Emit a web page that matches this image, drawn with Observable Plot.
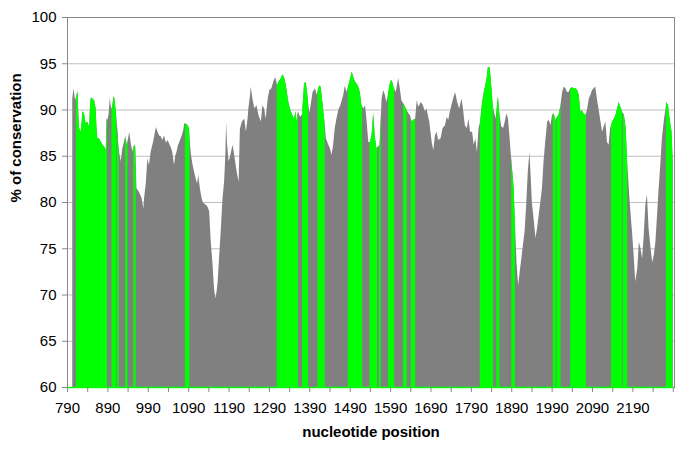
<!DOCTYPE html>
<html><head><meta charset="utf-8">
<script src="https://cdn.jsdelivr.net/npm/d3@7"></script>
<script src="https://cdn.jsdelivr.net/npm/@observablehq/plot@0.6"></script>
<style>body{margin:0;background:#fff;}</style>
</head><body><div id="chart"></div>
<script>
const positions = [803,806,810,813,816,818,820,824,826,828,832,836,840,845,847,849,853,857,861,863,865,869,874,878,882,886,888,890,893,896,898,901,905,907,911,915,917,919,923,927,931,934,938,941,944,948,952,956,959,962,968,975,979,981,985,989,993,997,1003,1010,1014,1018,1022,1026,1030,1035,1039,1043,1048,1051,1055,1058,1061,1065,1068,1074,1078,1080,1083,1087,1092,1095,1097,1101,1105,1109,1112,1115,1119,1123,1126,1130,1134,1138,1142,1146,1150,1154,1157,1160,1163,1167,1171,1175,1179,1182,1184,1186,1190,1193,1196,1200,1204,1210,1215,1218,1223,1229,1233,1237,1239,1243,1245,1249,1254,1259,1264,1270,1274,1278,1282,1287,1291,1296,1302,1306,1310,1313,1317,1324,1328,1332,1338,1342,1346,1352,1356,1358,1362,1367,1372,1377,1381,1385,1390,1394,1398,1404,1408,1414,1418,1423,1427,1431,1437,1441,1445,1449,1453,1457,1462,1467,1474,1478,1482,1489,1495,1499,1503,1507,1511,1515,1519,1524,1528,1532,1536,1540,1544,1548,1552,1556,1560,1564,1569,1573,1577,1581,1586,1590,1594,1598,1604,1610,1614,1618,1625,1629,1635,1639,1643,1647,1652,1656,1660,1666,1671,1676,1680,1687,1693,1697,1701,1705,1709,1715,1720,1726,1730,1734,1738,1742,1746,1751,1756,1761,1767,1771,1775,1780,1784,1788,1793,1797,1801,1805,1809,1813,1817,1822,1826,1830,1832,1836,1838,1841,1844,1846,1851,1857,1860,1865,1870,1874,1878,1882,1886,1889,1892,1896,1898,1903,1907,1911,1915,1919,1923,1927,1931,1935,1938,1941,1946,1950,1954,1958,1962,1966,1970,1974,1979,1983,1987,1991,1995,1999,2003,2007,2012,2016,2020,2024,2028,2032,2036,2041,2045,2049,2053,2057,2061,2065,2069,2074,2078,2082,2086,2090,2094,2098,2102,2107,2111,2115,2119,2123,2127,2131,2135,2140,2144,2148,2152,2156,2160,2164,2169,2173,2177,2181,2185,2189,2193,2197,2202,2206,2210,2214,2218,2222,2226,2230,2235,2239,2243,2247,2251,2255,2259,2263,2268,2272,2274,2278,2283,2287,2290];
const conservation = [91.2,92.3,91.0,91.5,92.0,89.5,88.0,87.6,88.5,89.8,89.6,88.5,88.7,88.1,90.5,91.3,91.2,91.0,90.1,88.0,86.9,86.9,86.5,86.2,86.0,85.6,89.0,88.9,89.5,91.3,90.5,90.0,91.4,91.3,89.8,87.6,86.2,85.4,84.4,85.8,86.5,87.1,86.2,86.8,87.6,86.3,85.5,86.2,86.0,81.5,81.1,80.4,79.3,80.5,82.0,84.7,84.0,85.4,86.5,88.1,87.6,87.2,87.1,86.7,87.2,86.4,86.7,86.3,85.8,85.3,84.0,85.0,85.4,86.2,86.5,87.2,87.8,88.5,88.5,88.4,88.0,86.0,85.1,84.0,83.2,82.5,82.0,82.9,81.5,80.5,80.0,79.8,79.7,79.5,79.0,75.7,73.5,70.7,69.6,70.2,71.4,74.3,77.1,80.4,82.2,85.0,88.7,86.5,84.4,84.8,85.4,86.2,85.1,83.3,82.2,87.9,88.7,89.0,87.6,89.0,90.1,91.5,92.5,91.2,90.1,90.5,89.4,88.7,90.5,90.1,89.0,91.2,92.1,92.3,93.2,93.5,92.6,93.0,93.2,93.8,93.4,92.6,90.8,90.1,89.6,89.0,89.8,88.7,89.8,89.2,89.5,92.8,93.0,91.6,89.6,90.7,91.9,92.3,91.6,92.6,92.5,90.5,88.9,86.9,86.2,85.8,85.1,86.2,88.0,89.0,90.0,90.5,91.6,92.6,91.9,93.0,94.1,93.5,93.0,92.8,92.5,91.9,90.5,90.1,90.5,88.7,86.5,86.5,87.2,89.6,87.2,85.8,86.0,86.2,91.2,92.1,91.6,90.8,92.0,93.0,93.2,92.5,91.9,93.4,92.3,91.0,90.5,90.1,89.6,89.4,88.7,88.9,89.0,91.0,90.3,90.8,90.5,89.8,90.1,88.7,86.5,85.6,87.2,87.6,86.7,86.9,88.0,88.3,89.2,88.9,89.8,90.5,91.2,91.9,90.8,90.1,91.2,89.9,88.3,88.0,89.0,87.6,87.6,86.2,86.9,85.4,88.0,88.7,90.5,91.9,92.7,93.7,94.6,94.6,93.9,92.3,90.5,90.0,89.0,91.4,89.8,88.2,88.0,88.7,89.6,89.0,86.9,85.1,83.6,81.5,79.0,73.5,71.0,72.5,73.9,75.4,76.8,79.7,83.3,85.4,82.9,80.0,77.9,76.1,77.2,78.6,80.0,81.5,84.4,86.5,88.7,88.9,88.3,89.4,89.6,88.9,89.2,89.4,90.5,91.9,92.5,92.3,91.9,91.9,92.3,92.4,92.3,92.3,92.1,91.6,89.8,89.9,89.6,89.4,90.1,91.2,91.6,92.1,92.3,92.5,91.2,89.8,88.7,87.6,88.2,88.7,86.5,86.2,88.0,88.7,89.0,89.4,90.1,90.8,90.3,89.8,89.4,88.1,84.4,81.5,79.0,76.8,74.3,71.4,72.8,75.7,75.0,73.9,76.4,79.7,80.8,77.2,75.0,73.5,74.3,75.7,78.6,81.5,84.0,86.9,88.9,90.1,90.8,90.5,88.7,87.6,84.4];
const greenStart = [812,900,914,934,954,1082,1309,1372,1410,1485,1539,1562,1585,1622,1641,1812,1853,1890,1993,2002,2036,2137,2166,2273];
const greenEnd   = [889,912,918,940,960,1093,1362,1387,1428,1521,1558,1567,1600,1631,1652,1845,1861,1899,2000,2012,2075,2164,2177,2289];
const yTicks = [60,65,70,75,80,85,90,95,100];
const yGrid = [65,70,75,80,85,90,95];
const xTickLabels = [790,890,990,1090,1190,1290,1390,1490,1590,1690,1790,1890,1990,2090,2190];
const xTicks = [790,840,890,940,990,1040,1090,1140,1190,1240,1290,1340,1390,1440,1490,1540,1590,1640,1690,1740,1790,1840,1890,1940,1990,2040,2090,2140,2190,2240,2290];

const data = positions.map((p, i) => ({pos: p, v: conservation[i]}));
const GREEN = "#00ff00", GRAY = "#808080";
const font = "'Liberation Sans', Arial, Helvetica, sans-serif";

const plot = Plot.plot({
  width: 685, height: 451,
  marginLeft: 67, marginRight: 11, marginTop: 17, marginBottom: 64,
  style: {fontFamily: font, fontSize: "15px", background: "#fff", color: "#000"},
  x: {domain: [790, 2293]},
  y: {domain: [60, 100]},
  marks: [
    Plot.ruleY(yGrid, {stroke: "#c0c0c0", strokeWidth: 1}),
    Plot.areaY(data, {x: "pos", y1: 60, y2: "v", fill: GRAY}),
    Plot.areaY(data, {x: "pos", y1: 60, y2: "v", fill: GREEN}),
    Plot.frame({stroke: "#888", strokeWidth: 1}),
    Plot.ruleY([60], {stroke: GREEN, strokeWidth: 1.5}),
    Plot.axisY(yTicks, {tickSize: 5, tickPadding: 6, stroke: "#888", fill: "#000", fontSize: 15, label: null}),
    Plot.axisX(xTicks, {tickSize: 5, tickFormat: () => "", stroke: "#888", label: null}),
    Plot.axisX(xTickLabels, {tickSize: 0, tickPadding: 15, fill: "#000", fontSize: 15, label: null, tickFormat: d => String(d)}),
    Plot.text(["nucleotide position"], {frameAnchor: "bottom", dy: 49, fontWeight: "bold", fontSize: 15, fill: "#000"}),
    Plot.text(["% of conservation"], {frameAnchor: "left", rotate: -90, dx: -51, fontWeight: "bold", fontSize: 15, fill: "#000"})
  ]
});

// clip the green copy of the area to the highlighted intervals, using the plot's x scale
const xs = plot.scale("x");
const svgSel = d3.select(plot);
const areas = svgSel.selectAll('g[aria-label="area"]').nodes();
const cp = svgSel.insert("defs", ":first-child").append("clipPath").attr("id", "green-clip");
greenStart.forEach((s, i) => {
  const a = xs.apply(s), b = xs.apply(greenEnd[i]);
  cp.append("rect").attr("x", a).attr("y", 0).attr("width", Math.max(1, b - a)).attr("height", 451);
});
if (areas.length > 1) d3.select(areas[1]).attr("clip-path", "url(#green-clip)");
document.getElementById("chart").appendChild(plot);
</script>
</body></html>
